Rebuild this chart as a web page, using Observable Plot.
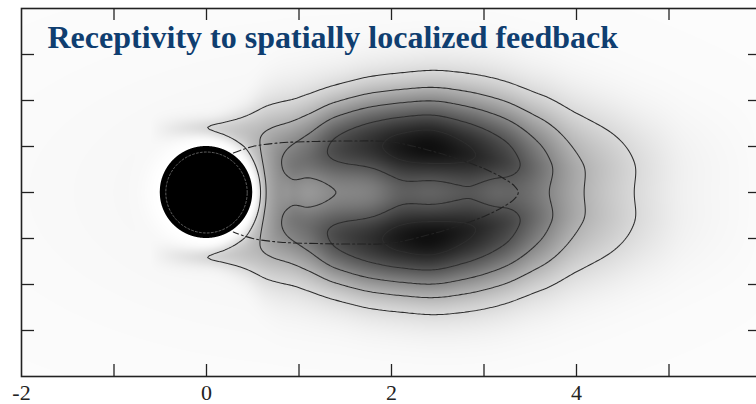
<!DOCTYPE html>
<html>
<head>
<meta charset="utf-8">
<script src="https://cdn.jsdelivr.net/npm/d3@7"></script>
<script src="https://cdn.jsdelivr.net/npm/@observablehq/plot@0.6"></script>
<style>
  html, body { margin: 0; padding: 0; background: #fff; overflow: hidden; }
  #chart svg { max-width: none !important; display: block; }
</style>
</head>
<body>
<div id="chart"></div>
<script>
// ---- chart content -------------------------------------------------------
const title = "Receptivity to spatially localized feedback";
const xDomain = [-2, 6];
const yDomain = [-2, 2];
const xTicks = [-1, 0, 1, 2, 3, 4, 5];
const xTickLabels = [-2, 0, 2, 4, 6];
const yTicks = [-1.5, -1, -0.5, 0, 0.5, 1, 1.5];
const cylinderRadius = 0.5;
const innerRingRadius = 0.44;

// Wake sensitivity profile, sampled at streamwise stations x.
// ridgeY: distance of each shear-layer lobe from the axis
// ridgeAmp: lobe strength; innerW / outerW: lobe half-widths toward / away from the axis
const knotX    = [-0.6, 0.0, 0.4, 0.65, 0.9, 1.1, 1.4, 1.8, 2.1, 2.4, 2.8, 3.2, 3.6, 4.0, 4.4, 4.8, 5.2, 6.0];
const ridgeY   = [0.68, 0.68, 0.66, 0.52, 0.34, 0.39, 0.48, 0.52, 0.51, 0.50, 0.45, 0.38, 0.33, 0.32, 0.33, 0.33, 0.33, 0.33];
const ridgeAmp = [0.00, 0.14, 0.20, 0.29, 0.46, 0.52, 0.66, 0.77, 0.85, 0.89, 0.82, 0.70, 0.48, 0.27, 0.165, 0.085, 0.03, 0.0];
const innerW   = [0.12, 0.12, 0.25, 0.60, 0.36, 0.38, 0.45, 0.475, 0.49, 0.47, 0.455, 0.40, 0.40, 0.42, 0.42, 0.42, 0.42, 0.42];
const outerW   = [0.12, 0.12, 0.22, 0.44, 0.57, 0.56, 0.53, 0.55, 0.57, 0.59, 0.62, 0.64, 0.64, 0.62, 0.58, 0.55, 0.55, 0.55];

// contour levels of the sensitivity map
const levels = [0.15, 0.3, 0.47, 0.67, 0.85];

// recirculation bubble boundary, upper half (the lower half is its mirror)
const bubbleX = [0.29, 0.5, 0.8, 1.2, 1.6, 2.0, 2.4, 2.7, 3.0, 3.2, 3.33, 3.37];
const bubbleY = [0.43, 0.50, 0.54, 0.555, 0.56, 0.55, 0.46, 0.37, 0.26, 0.16, 0.07, 0.0];

// ---- field ---------------------------------------------------------------
// monotone cubic interpolation through the station values
function profile(values) {
  const n = knotX.length;
  const secant = d3.range(n - 1).map((i) => (values[i + 1] - values[i]) / (knotX[i + 1] - knotX[i]));
  const slope = values.map((_, i) => {
    if (i === 0) return secant[0];
    if (i === n - 1) return secant[n - 2];
    const s0 = secant[i - 1], s1 = secant[i];
    if (s0 * s1 <= 0) return 0;
    const h0 = knotX[i] - knotX[i - 1], h1 = knotX[i + 1] - knotX[i];
    const w1 = 2 * h1 + h0, w2 = h1 + 2 * h0;
    return (w1 + w2) / (w1 / s0 + w2 / s1);
  });
  return (x) => {
    if (x <= knotX[0]) return values[0];
    if (x >= knotX[n - 1]) return values[n - 1];
    const i = d3.bisectRight(knotX, x) - 1;
    const h = knotX[i + 1] - knotX[i], t = (x - knotX[i]) / h;
    const t2 = t * t, t3 = t2 * t;
    return (2 * t3 - 3 * t2 + 1) * values[i] + (t3 - 2 * t2 + t) * h * slope[i]
         + (-2 * t3 + 3 * t2) * values[i + 1] + (t3 - t2) * h * slope[i + 1];
  };
}
const ridgeAt = profile(ridgeY), ampAt = profile(ridgeAmp);
const innerAt = profile(innerW), outerAt = profile(outerW);

function lobe(a, v, wi, wo) {
  const w = v < 0 ? wi : wo;
  return a * Math.exp(-((v / w) ** 2));
}

function sensitivity(x, y) {
  const rho = Math.hypot(x, y);
  if (rho <= cylinderRadius) return 0;
  const a = Math.max(0, ampAt(x)), r = ridgeAt(x), wi = innerAt(x), wo = outerAt(x);
  const u = Math.abs(y);
  let s = lobe(a, u - r, wi, wo) + lobe(a, -u - r, wi, wo);
  s += 0.012 + 0.035 * Math.exp(-(((x - 1.5) / 3) ** 2) - ((y / 1.4) ** 2));
  // no-slip surface: the map vanishes on the cylinder wall
  const h = 0.08 + 0.12 * (1 - x / rho) / 2;
  s *= 1 - Math.exp(-(((rho - cylinderRadius) / h) ** 2));
  return Math.min(0.95, s);
}

// ---- geometry of the cylinder and the bubble ------------------------------
const disc = d3.range(-cylinderRadius, cylinderRadius, cylinderRadius / 200)
  .concat([cylinderRadius])
  .map((x) => {
    const h = Math.sqrt(Math.max(0, cylinderRadius ** 2 - x ** 2));
    return {x, lo: -h, hi: h};
  });
const ring = d3.range(0, 2 * Math.PI + 0.01, Math.PI / 90)
  .map((t) => ({x: innerRingRadius * Math.cos(t), y: innerRingRadius * Math.sin(t)}));
const bubble = bubbleX.map((x, i) => ({x, y: bubbleY[i]}))
  .concat(bubbleX.slice(0, -1).reverse().map((x, i, arr) => ({x, y: -bubbleY[arr.length - 1 - i]})));

// ---- layout --------------------------------------------------------------
const width = 766, height = 404;
const marginLeft = 21, marginRight = 5, marginTop = 8, marginBottom = 28;
const plotW = width - marginLeft - marginRight;
const plotH = height - marginTop - marginBottom;
const xTickLen = 12, yTickLen = 13;
const ink = "#222";

const chart = Plot.plot({
  width, height, marginLeft, marginRight, marginTop, marginBottom,
  style: {fontFamily: "'Liberation Serif', 'Times New Roman', serif", background: "#fff"},
  x: {domain: xDomain, label: null},
  y: {domain: yDomain, axis: null, label: null},
  color: {type: "linear", domain: [0, 1], range: ["#ffffff", "#000000"]},
  marks: [
    Plot.raster({x1: xDomain[0], x2: xDomain[1], y1: yDomain[0], y2: yDomain[1],
      fill: sensitivity, pixelSize: 1}),
    Plot.contour({x1: xDomain[0], x2: xDomain[1], y1: yDomain[0], y2: yDomain[1],
      value: sensitivity, thresholds: levels, pixelSize: 2,
      fill: "none", stroke: "#2e2e2e", strokeWidth: 1.05}),
    Plot.line(bubble, {x: "x", y: "y", curve: "catmull-rom",
      stroke: "#222", strokeWidth: 1.1, strokeDasharray: "8,3,2,3"}),
    Plot.areaY(disc, {x: "x", y1: "lo", y2: "hi", fill: "#000"}),
    Plot.line(ring, {x: "x", y: "y", stroke: "#777", strokeWidth: 0.8, strokeDasharray: "2,2"}),
    Plot.frame({stroke: ink, strokeWidth: 1.6}),
    Plot.tickX(xTicks, {x: (d) => d, insetTop: plotH - xTickLen, stroke: ink, strokeWidth: 1.3}),
    Plot.tickX(xTicks, {x: (d) => d, insetBottom: plotH - xTickLen, stroke: ink, strokeWidth: 1.3}),
    Plot.tickY(yTicks, {y: (d) => d, insetRight: plotW - yTickLen, stroke: ink, strokeWidth: 1.3}),
    Plot.tickY(yTicks, {y: (d) => d, insetLeft: plotW - yTickLen, stroke: ink, strokeWidth: 1.3}),
    Plot.axisX(xTickLabels, {tickSize: 0, tickPadding: 8, fontSize: 22, fill: ink, label: null,
      tickFormat: (d) => (d < 0 ? "-" : "") + Math.abs(d)}),
    Plot.text([title], {text: (d) => d, frameAnchor: "top-left", textAnchor: "start",
      lineAnchor: "bottom", dx: 26, dy: 39, fontSize: 32, fontWeight: "bold",
      fill: "#0f3e70"})
  ]
});
document.getElementById("chart").appendChild(chart);
</script>
</body>
</html>
